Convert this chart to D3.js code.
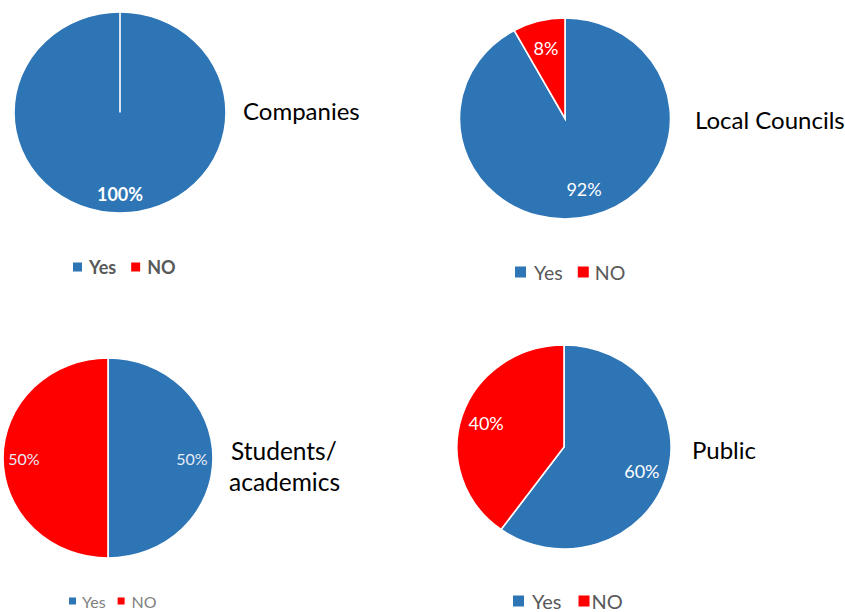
<!DOCTYPE html>
<html>
<head>
<meta charset="utf-8">
<script src="https://cdn.jsdelivr.net/npm/d3@7"></script>
<style>
  body { margin: 0; background: #fff; }
  svg { display: block; }
</style>
</head>
<body>
<svg width="845" height="612"></svg>
<script>
const groups = ["Companies", "Local Councils", "Students/academics", "Public"];
const categories = ["Yes", "NO"];
const yesValues = [100, 92, 50, 60];
const noValues = [0, 8, 50, 40];

const colors = d3.scaleOrdinal().domain(categories).range(["#2e75b6", "#ff0000"]);

// layout of each panel (the original image is slightly stretched sideways)
const panels = [
  { cx: 120, cy: 112.5, r: 100.5, sx: 1.055, labelR: 81, labelSize: 18, labelBold: true, labelFill: "#fff",
    title: ["Companies"], tx: 243, ty: 120, tSize: 24,
    lx: 73, ly: 267, sq: 9, lSize: 18, lBold: true, lFill: "#595959", lGap: 15, tOff: [7, 7] },
  { cx: 565, cy: 118.5, r: 100.5, sx: 1.05, labelR: 73, labelSize: 18, labelBold: false, labelFill: "#fff",
    title: ["Local Councils"], tx: 695, ty: 129, tSize: 24,
    lx: 515, ly: 272, sq: 11, lSize: 19.5, lBold: false, lFill: "#595959", lGap: 15, tOff: [8, 6] },
  { cx: 108, cy: 458, r: 100, sx: 1.05, labelR: 80, labelSize: 16, labelBold: false, labelFill: "#e6ecf5",
    title: ["Students/", "academics"], tx: 231, ty: 460, tSize: 24.5,
    lx: 69, ly: 601, sq: 7, lSize: 16, lBold: false, lFill: "#7f7f7f", lGap: 12, tOff: [6, 7] },
  { cx: 564, cy: 447, r: 102, sx: 1.05, labelR: 78, labelSize: 18, labelBold: false, labelFill: "#fff",
    title: ["Public"], tx: 692, ty: 459, tSize: 24,
    lx: 513, ly: 601, sq: 11, lSize: 20, lBold: false, lFill: "#595959", lGap: 17, tOff: [8, 2] }
];

const svg = d3.select("svg");
const pie = d3.pie().sort(null).value(d => d.value);
const font = "Lato, 'Open Sans', sans-serif";

groups.forEach((name, i) => {
  const p = panels[i];
  const data = [
    { key: "Yes", value: yesValues[i] },
    { key: "NO", value: noValues[i] }
  ];
  const arcs = pie(data);
  const arc = d3.arc().innerRadius(0).outerRadius(p.r);

  const g = svg.append("g")
    .attr("transform", `translate(${p.cx},${p.cy}) scale(${p.sx},1)`);

  g.selectAll("path")
    .data(arcs)
    .enter().append("path")
      .attr("d", arc)
      .attr("fill", d => colors(d.data.key))
      .attr("stroke", "#fff")
      .attr("stroke-width", 1.6)
      .attr("vector-effect", "non-scaling-stroke");

  // value labels, placed outside the stretched group so text is not distorted
  const labelArc = d3.arc().innerRadius(p.labelR).outerRadius(p.labelR);
  svg.selectAll(null)
    .data(arcs.filter(d => d.data.value > 0))
    .enter().append("text")
      .attr("x", d => p.cx + labelArc.centroid(d)[0] * p.sx)
      .attr("y", d => p.cy + labelArc.centroid(d)[1])
      .attr("text-anchor", "middle")
      .attr("dominant-baseline", "central")
      .attr("font-family", font)
      .attr("font-size", p.labelSize)
      .attr("font-weight", p.labelBold ? "bold" : "normal")
      .attr("fill", p.labelFill)
      .text(d => d.data.value + "%");

  // title beside the pie
  const t = svg.append("text")
    .attr("font-family", font)
    .attr("font-size", p.tSize)
    .attr("fill", "#000");
  p.title.forEach((line, j) => {
    t.append("tspan")
      .attr("x", p.tx + (j > 0 ? -2 : 0))
      .attr("y", p.ty + j * 31)
      .text(line);
  });

  // legend
  const leg = svg.append("g").attr("transform", `translate(${p.lx},${p.ly})`);
  let x = 0;
  categories.forEach((c, k) => {
    leg.append("rect")
      .attr("x", x)
      .attr("y", -p.sq / 2)
      .attr("width", p.sq)
      .attr("height", p.sq)
      .attr("fill", colors(c));
    const txt = leg.append("text")
      .attr("x", x + p.sq + p.tOff[k])
      .attr("y", 0)
      .attr("dominant-baseline", "central")
      .attr("font-family", font)
      .attr("font-size", p.lSize)
      .attr("font-weight", p.lBold ? "bold" : "normal")
      .attr("fill", p.lFill)
      .text(c);
    x += p.sq + p.tOff[k] + txt.node().getComputedTextLength() + p.lGap;
  });
});
</script>
</body>
</html>
